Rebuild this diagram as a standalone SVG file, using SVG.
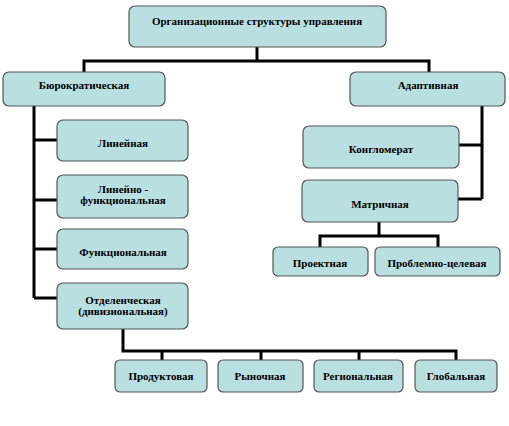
<svg xmlns="http://www.w3.org/2000/svg" width="509" height="426" viewBox="0 0 509 426">
<style>
.box{fill:#B9DFE1;stroke:#555;stroke-width:1.2}
.t{font-family:'Liberation Serif','Times New Roman','DejaVu Serif',serif;font-weight:bold;font-size:11px;fill:#000;text-anchor:middle}
.c{fill:none;stroke:#000;stroke-width:3}
</style>
<rect width="509" height="426" fill="#fff"/>
<g id="connectors">
<polyline class="c" points="257,47 257,61"/>
<polyline class="c" points="84,72 84,61 429,61 429,72"/>
<polyline class="c" points="34,106 34,298"/>
<line class="c" x1="34" y1="140" x2="57" y2="140"/>
<line class="c" x1="34" y1="200" x2="57" y2="200"/>
<line class="c" x1="34" y1="249" x2="57" y2="249"/>
<line class="c" x1="34" y1="298" x2="57" y2="298"/>
<polyline class="c" points="482,106 482,199"/>
<line class="c" x1="459" y1="145" x2="482" y2="145"/>
<line class="c" x1="458" y1="199" x2="482" y2="199"/>
<polyline class="c" points="379,222 379,236"/>
<polyline class="c" points="320,247 320,236 438,236 438,247"/>
<polyline class="c" points="123,329 123,351 456,351 456,360"/>
<line class="c" x1="162" y1="351" x2="162" y2="360"/>
<line class="c" x1="261" y1="351" x2="261" y2="360"/>
<line class="c" x1="359" y1="351" x2="359" y2="360"/>
</g>
<g id="root"><rect class="box" x="129" y="6" width="257" height="41" rx="6"/><text class="t" x="257" y="25">Организационные структуры управления</text></g>
<g id="bureau"><rect class="box" x="3" y="72" width="162" height="34" rx="6"/><text class="t" x="84" y="89">Бюрократическая</text></g>
<g id="adapt"><rect class="box" x="350" y="72" width="155" height="34" rx="6"/><text class="t" x="428" y="89">Адаптивная</text></g>
<g id="linear"><rect class="box" x="57" y="120" width="131" height="41" rx="6"/><text class="t" x="123" y="147">Линейная</text></g>
<g id="linfunc"><rect class="box" x="57" y="175" width="131" height="43" rx="6"/><text class="t" x="123" y="193">Линейно -</text><text class="t" x="123" y="204">функциональная</text></g>
<g id="func"><rect class="box" x="57" y="229" width="131" height="40" rx="6"/><text class="t" x="123" y="256">Функциональная</text></g>
<g id="div"><rect class="box" x="57" y="283" width="131" height="46" rx="6"/><text class="t" x="123" y="304">Отделенческая</text><text class="t" x="123" y="315">(дивизиональная)</text></g>
<g id="conglo"><rect class="box" x="303" y="126" width="156" height="42" rx="6"/><text class="t" x="381" y="153">Конгломерат</text></g>
<g id="matrix"><rect class="box" x="302" y="180" width="156" height="42" rx="6"/><text class="t" x="380" y="208">Матричная</text></g>
<g id="project"><rect class="box" x="273" y="247" width="95" height="29" rx="5"/><text class="t" x="320" y="267">Проектная</text></g>
<g id="problem"><rect class="box" x="375" y="247" width="125" height="29" rx="5"/><text class="t" x="437" y="267">Проблемно-целевая</text></g>
<g id="product"><rect class="box" x="115" y="360" width="92" height="32" rx="5"/><text class="t" x="161" y="380">Продуктовая</text></g>
<g id="market"><rect class="box" x="218" y="360" width="85" height="32" rx="5"/><text class="t" x="260" y="380">Рыночная</text></g>
<g id="region"><rect class="box" x="314" y="360" width="89" height="32" rx="5"/><text class="t" x="358" y="380">Региональная</text></g>
<g id="global"><rect class="box" x="415" y="360" width="82" height="32" rx="5"/><text class="t" x="456" y="380">Глобальная</text></g>
</svg>
